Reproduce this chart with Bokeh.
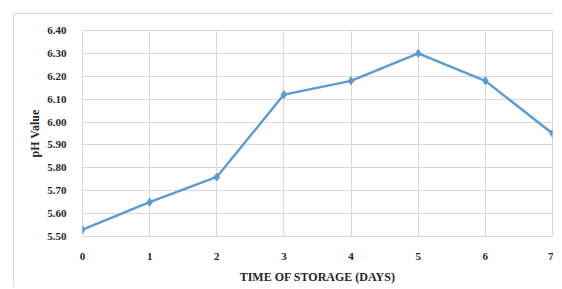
from bokeh.plotting import figure
from bokeh.models import FixedTicker, PrintfTickFormatter, Range1d
from bokeh.embed import file_html
from bokeh.resources import INLINE

days = [0, 1, 2, 3, 4, 5, 6, 7]
ph_values = [5.53, 5.65, 5.76, 6.12, 6.18, 6.30, 6.18, 5.95]
y_ticks = [5.50, 5.60, 5.70, 5.80, 5.90, 6.00, 6.10, 6.20, 6.30, 6.40]
x_label = "TIME OF STORAGE (DAYS)"
y_label = "pH Value"

p = figure(width=540, height=272, output_backend="svg", toolbar_location=None,
           x_range=Range1d(0, 7), y_range=Range1d(5.5, 6.4),
           min_border_left=68, min_border_top=16, min_border_right=2, min_border_bottom=45)
p.styles = {"margin-left": "13px", "margin-top": "13px",
            "border-top": "1px solid #d9d9d9", "border-left": "1px solid #d9d9d9"}

p.line(days, ph_values, line_color="#5b9bd5", line_width=2.4)
p.scatter(days, ph_values, marker="diamond", size=8, fill_color="#5b9bd5", line_color="#5b9bd5")

p.xaxis.ticker = FixedTicker(ticks=days)
p.yaxis.ticker = FixedTicker(ticks=y_ticks)
p.yaxis.formatter = PrintfTickFormatter(format="%.2f")
p.xaxis.axis_label = x_label
p.yaxis.axis_label = y_label

for ax in [p.xaxis[0], p.yaxis[0]]:
    ax.axis_line_color = None
    ax.major_tick_line_color = None
    ax.minor_tick_line_color = None
    ax.major_label_text_font = "Liberation Serif"
    ax.major_label_text_font_style = "bold"
    ax.major_label_text_font_size = "11px"
    ax.major_label_text_color = "#262626"
    ax.axis_label_text_font = "Liberation Serif"
    ax.axis_label_text_font_style = "bold"
    ax.axis_label_text_font_size = "12px"
    ax.axis_label_text_color = "#262626"
    ax.major_label_standoff = 10

p.xaxis.axis_label_standoff = 7
p.yaxis.axis_label_standoff = 2

p.xgrid.grid_line_color = "#d9d9d9"
p.ygrid.grid_line_color = "#d9d9d9"
p.outline_line_color = "#d9d9d9"

open("out.html", "w").write(file_html(p, INLINE))
